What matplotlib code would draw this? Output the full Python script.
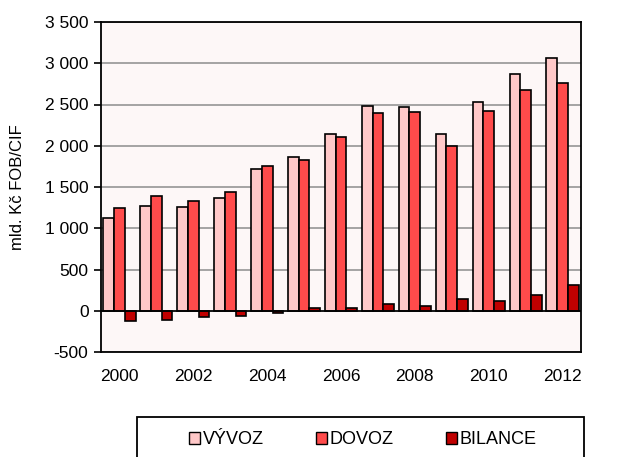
import numpy as np
import matplotlib
matplotlib.use('Agg')
from matplotlib import pyplot as plt
from matplotlib.ticker import FuncFormatter
from matplotlib.patches import Rectangle

plt.rcParams['font.family'] = ['Liberation Sans', 'DejaVu Sans']

years = list(range(2000, 2013))
vyvoz = [1121, 1270, 1255, 1371, 1723, 1869, 2145, 2480, 2475, 2137, 2535, 2868, 3063]
dovoz = [1241, 1386, 1326, 1440, 1749, 1830, 2109, 2402, 2412, 1991, 2418, 2675, 2755]
bilance = [-120, -116, -71, -69, -26, 39, 36, 78, 63, 146, 117, 193, 308]

fig = plt.figure(figsize=(6.19, 4.57), dpi=100)
ax = fig.add_axes([101/619, 1-352/457, 480/619, 330/457])
ax.set_facecolor('#fdf7f7')

x = np.arange(len(years))
w = 0.29
ax.bar(x - w, vyvoz, w, color='#ffc8c8', edgecolor='black', linewidth=1.2, label='VÝVOZ', zorder=3)
ax.bar(x, dovoz, w, color='#ff4b4b', edgecolor='black', linewidth=1.2, label='DOVOZ', zorder=3)
ax.bar(x + w, bilance, w, color='#c00000', edgecolor='black', linewidth=1.2, label='BILANCE', zorder=3)

ax.set_xlim(-0.5, len(years) - 0.5)
ax.set_ylim(-500, 3500)
ax.set_yticks(np.arange(-500, 3501, 500))
ax.yaxis.set_major_formatter(FuncFormatter(lambda v, p: f"{v:,.0f}".replace(",", " ")))
ax.yaxis.grid(True, color='#8c8c8c', linewidth=1.1, zorder=0)
ax.axhline(0, color='black', linewidth=1.2, zorder=4)

ax.set_xticks(x[::2])
ax.set_xticklabels([str(y) for y in years[::2]])
ax.tick_params(axis='x', length=0, pad=12, labelsize=12.5)
ax.tick_params(axis='y', length=5, width=1.2, direction='out', labelsize=12.5, pad=4)
for s in ax.spines.values():
    s.set_linewidth(1.3)

ax.set_ylabel('mld. Kč FOB/CIF', fontsize=12, labelpad=14)

# legend frame runs past the bottom edge of the figure
fig.patches.append(Rectangle((137/619, -0.05), 447/619, 0.05 + 40/457,
                             transform=fig.transFigure, facecolor='white',
                             edgecolor='black', linewidth=1.3))
leg = fig.legend(loc='center', bbox_to_anchor=(363/619, 1-440/457),
                 ncol=3, frameon=False, fontsize=13,
                 handlelength=0.6, handleheight=0.6,
                 handletextpad=0.15, columnspacing=2.9, borderaxespad=0)
for h in leg.legend_handles:
    h.set_linewidth(1.0)

plt.savefig('out.png', dpi=100)
